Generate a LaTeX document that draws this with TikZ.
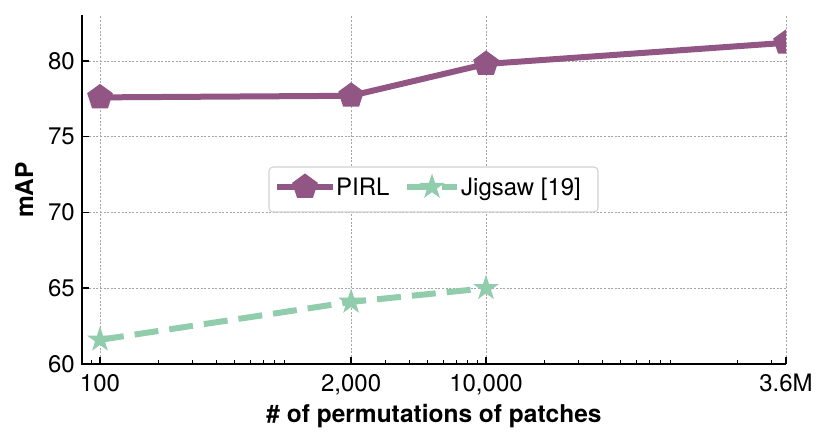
\documentclass[tikz,border=0pt]{standalone}
\usepackage{fontspec}
\setmainfont{TeX Gyre Heros}
\usetikzlibrary{shapes.geometric}
\definecolor{pirl}{RGB}{145,86,132}
\definecolor{jig}{RGB}{145,205,172}
\definecolor{gridc}{RGB}{165,165,165}
\definecolor{legc}{RGB}{210,210,210}
\begin{document}
\begin{tikzpicture}[x=1pt,y=1pt,
  gridline/.style={draw=gridc, line width=0.8pt, dash pattern=on 2pt off 1.6pt},
  spine/.style={line width=1.8pt, line join=miter},
  majortick/.style={line width=1.5pt},
  minortick/.style={line width=1.1pt},
  ticklab/.style={font=\fontsize{24}{28}\selectfont, inner sep=0pt},
  axlab/.style={font=\fontsize{24.5}{28}\selectfont\bfseries, inner sep=0pt},
  pirlline/.style={draw=pirl, line width=6pt, line join=round},
  jigline/.style={draw=jig, line width=6pt, line join=round, dash pattern=on 24pt off 11pt},
  pent/.style={regular polygon, regular polygon sides=5, minimum size=27pt, inner sep=0pt, fill=pirl},
  starm/.style={star, star points=5, star point ratio=2.618, minimum size=27pt, inner sep=0pt, fill=jig},
  legbox/.style={draw=legc, fill=white, rounded corners=4pt, line width=1.1pt, inner sep=0pt}
]
\useasboundingbox (0,0) rectangle (829,443);
% grid
\foreach \x in {100,351.1,486,786} \draw[gridline] (\x,79) -- (\x,428);
\foreach \y in {154.75,230.5,306.25,382} \draw[gridline] (82,\y) -- (786,\y);
% data
\coordinate (p1) at (100,345.6);
\coordinate (p2) at (351.1,347.2);
\coordinate (p3) at (486,379);
\coordinate (p4) at (786,400.2);
\coordinate (j1) at (100,103.2);
\coordinate (j2) at (351.1,141.1);
\coordinate (j3) at (486,154.75);
\begin{scope}
\clip (82,79) rectangle (786,428);
\draw[pirlline] (p1) -- (p2) -- (p3) -- (p4);
\draw[jigline] (j1) -- (j2) -- (j3);
\foreach \p in {p1,p2,p3,p4} \node[pent] at (\p) {};
\foreach \j in {j1,j2,j3} \node[starm] at (\j) {};
\end{scope}
% minor ticks
\foreach \x in {91.2,158.1,192.1,216.2,234.9,250.2,263.1,274.3,284.2,385.1,409.2,427.9,443.2,456.1,467.3,477.2,544.1,578.1,602.2,620.9,636.2,649.1,660.3,670.2,737.1,771.1}
  \draw[minortick] (\x,79) -- (\x,82.5);
% major ticks
\foreach \x in {100,351.1,486,786} \draw[majortick] (\x,79) -- (\x,86);
\foreach \y in {154.75,230.5,306.25,382} \draw[majortick] (82,\y) -- (89,\y);
% spines
\draw[spine] (82,428) -- (82,79) -- (786,79);
% tick labels
\node[ticklab, anchor=base] (xl1) at (100,51) {100};
\node[ticklab, anchor=base] (xl2) at (351.1,51) {2,000};
\node[ticklab, anchor=base] (xl3) at (486,51) {10,000};
\node[ticklab, anchor=base] (xl4) at (786,51) {3.6M};
\node[ticklab, anchor=east] (yl0) at (75,79) {60};
\node[ticklab, anchor=east] (yl1) at (75,154.75) {65};
\node[ticklab, anchor=east] (yl2) at (75,230.5) {70};
\node[ticklab, anchor=east] (yl3) at (75,306.25) {75};
\node[ticklab, anchor=east] (yl4) at (75,382) {80};
% axis labels
\node[axlab, anchor=base] (xlab) at (434,20) {\# of permutations of patches};
\node[axlab, anchor=base, rotate=90] (ylab) at (33,253) {mAP};
% legend
\node[legbox, minimum width=329pt, minimum height=45pt] (leg) at (433.5,253.5) {};
\coordinate (la1) at (277,256);
\coordinate (la2) at (333,256);
\coordinate (lb1) at (407,256);
\coordinate (lb2) at (457,256);
\draw[pirlline] (la1) -- (la2);
\draw[jigline] (lb1) -- (lb2);
\node[pent] (lm1) at (305,256) {};
\node[starm] (lm2) at (432,256) {};
\node[ticklab, anchor=base west] (lt1) at (336,247.5) {PIRL};
\node[ticklab, anchor=base west] (lt2) at (461,247.5) {Jigsaw [19]};
\end{tikzpicture}
\end{document}
